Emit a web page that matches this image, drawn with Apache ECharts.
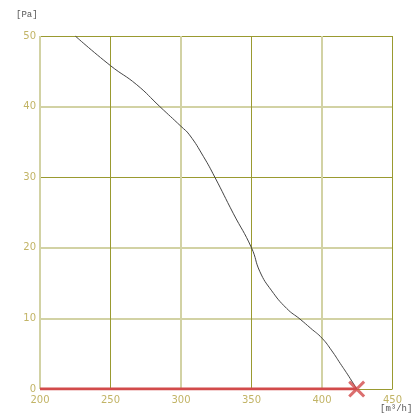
<!DOCTYPE html>
<html><head><meta charset="utf-8">
<script src="https://cdn.jsdelivr.net/npm/echarts@6/dist/echarts.min.js"></script>
<style>html,body{margin:0;padding:0;background:#fff}#c{width:412px;height:413px}</style>
</head><body><div id="c"></div>
<script>
const flowX = [225, 250, 268.6, 285, 300, 306, 316, 324, 337, 350, 356, 364, 375, 384.4, 392, 400, 407, 413, 419, 424.6];
const pressY = [50, 45.8, 43.1, 40, 37.2, 36.0, 32.9, 30, 24.9, 20, 16.6, 14.0, 11.4, 9.9, 8.6, 7.2, 5.4, 3.6, 1.8, 0];
const baseX = [200, 424.6];
const baseY = [0, 0];
const xTicks = [200, 250, 300, 350, 400, 450];
const yTicks = [0, 10, 20, 30, 40, 50];
const xUnit = '[m³/h]';
const yUnit = '[Pa]';

const D = '#9a9a30', L = '#d2d2a4', T = 'rgba(0,0,0,0)';
const lab = {color: '#c2b466', fontSize: 10, fontFamily: 'DejaVu Sans'};
const chart = echarts.init(document.getElementById('c'), null, {renderer: 'canvas'});
const xBase = {type: 'value', min: xTicks[0], max: xTicks[xTicks.length-1], interval: 50,
  axisLine: {show: false}, axisTick: {show: false}};
const yBase = {type: 'value', min: yTicks[0], max: yTicks[yTicks.length-1], interval: 10,
  axisLine: {show: false}, axisTick: {show: false}};
chart.setOption({
  animation: false,
  grid: {left: 40, right: 19.5, top: 36, bottom: 24},
  xAxis: [
    Object.assign({}, xBase, {axisLabel: Object.assign({margin: 6}, lab),
      splitLine: {show: true, lineStyle: {width: 1, color: [T, D, T, D, T, D]}}}),
    Object.assign({}, xBase, {axisLabel: {show: false}, z: 0,
      splitLine: {show: true, lineStyle: {width: 2, color: [L, T, L, T, L, T]}}})
  ],
  yAxis: [
    Object.assign({}, yBase, {axisLabel: Object.assign({margin: 4}, lab),
      splitLine: {show: true, lineStyle: {width: 1, color: [D, T, T, D, T, D]}}}),
    Object.assign({}, yBase, {position: 'left', axisLabel: {show: false}, z: 0,
      splitLine: {show: true, lineStyle: {width: 2, color: [T, L, L, T, L, T]}}})
  ],
  graphic: [
    {type: 'text', left: 16, top: 10, style: {text: yUnit, fill: '#555', font: '9px "Liberation Mono"'}},
    {type: 'text', left: 380, top: 404, style: {text: xUnit, fill: '#555', font: '9px "Liberation Mono"'}}
  ],
  series: [
    {type: 'line', data: baseX.map((x, i) => [x, baseY[i]]), symbol: 'none',
      lineStyle: {color: '#d24a4a', width: 3}, z: 3},
    {type: 'line', data: flowX.map((x, i) => [x, pressY[i]]), symbol: 'none', smooth: 0.5,
      lineStyle: {color: '#444', width: 1}, z: 4},
    {type: 'scatter', data: [[baseX[1], baseY[1]]], symbol: 'path://M0,2 L2,0 L8,6 L14,0 L16,2 L10,8 L16,14 L14,16 L8,10 L2,16 L0,14 L6,8 Z',
      symbolSize: [17, 17], itemStyle: {color: '#d24a4a'}, z: 5}
  ]
});
</script></body></html>
